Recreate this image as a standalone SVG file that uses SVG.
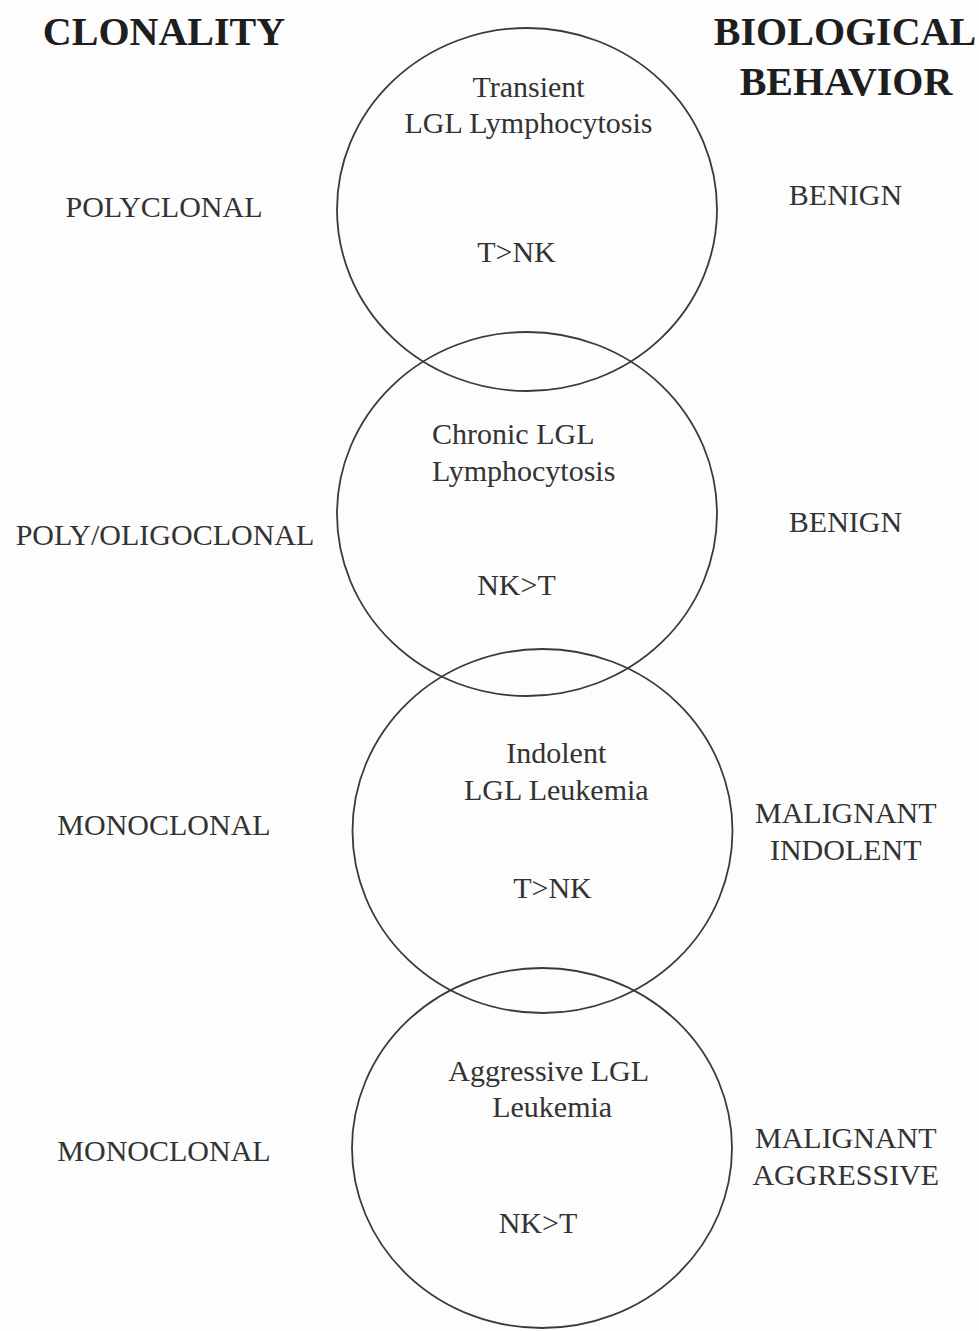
<svg xmlns="http://www.w3.org/2000/svg" width="979" height="1331" viewBox="0 0 979 1331">
<style>
.bg{fill:#fdfdfd}
.c{fill:none;stroke:#3a3a3a;stroke-width:1.8}
.h{font-family:"Liberation Serif","Times New Roman",serif;font-weight:bold;font-size:40px;fill:#1e1e1e;text-anchor:middle}
.t{font-family:"Liberation Serif","Times New Roman",serif;font-size:30px;fill:#333;text-anchor:middle}
.l{font-family:"Liberation Serif","Times New Roman",serif;font-size:30px;fill:#333;text-anchor:start}
</style>
<rect class="bg" x="0" y="0" width="979" height="1331"/>
<g id="headers">
<text class="h" x="164" y="45">CLONALITY</text>
<text class="h" x="845" y="45">BIOLOGICAL</text>
<text class="h" x="846" y="95">BEHAVIOR</text>
</g>
<g id="connectors"></g>
<g id="node1">
<ellipse class="c" cx="527" cy="209.5" rx="190" ry="181.5"/>
<text class="t" x="528.5" y="97">Transient</text>
<text class="t" x="528.5" y="133">LGL Lymphocytosis</text>
<text class="t" x="516.5" y="262">T&gt;NK</text>
</g>
<g id="node2">
<ellipse class="c" cx="527" cy="514" rx="190" ry="182"/>
<text class="l" x="432" y="444">Chronic LGL</text>
<text class="l" x="432" y="481">Lymphocytosis</text>
<text class="t" x="516.5" y="595">NK&gt;T</text>
</g>
<g id="node3">
<ellipse class="c" cx="542.5" cy="831" rx="190" ry="182"/>
<text class="t" x="556.3" y="763">Indolent</text>
<text class="t" x="556.3" y="800">LGL Leukemia</text>
<text class="t" x="552.5" y="898">T&gt;NK</text>
</g>
<g id="node4">
<ellipse class="c" cx="542" cy="1148" rx="190" ry="180"/>
<text class="t" x="548.7" y="1081">Aggressive LGL</text>
<text class="t" x="552.2" y="1117">Leukemia</text>
<text class="t" x="538" y="1233">NK&gt;T</text>
</g>
<g id="left-labels">
<text class="t" x="164" y="217">POLYCLONAL</text>
<text class="t" x="165" y="545">POLY/OLIGOCLONAL</text>
<text class="t" x="164" y="835">MONOCLONAL</text>
<text class="t" x="164" y="1161">MONOCLONAL</text>
</g>
<g id="right-labels">
<text class="t" x="845.5" y="205">BENIGN</text>
<text class="t" x="845.5" y="532">BENIGN</text>
<text class="t" x="845.8" y="823">MALIGNANT</text>
<text class="t" x="845.8" y="860">INDOLENT</text>
<text class="t" x="845.8" y="1148">MALIGNANT</text>
<text class="t" x="845.8" y="1185">AGGRESSIVE</text>
</g>
</svg>
